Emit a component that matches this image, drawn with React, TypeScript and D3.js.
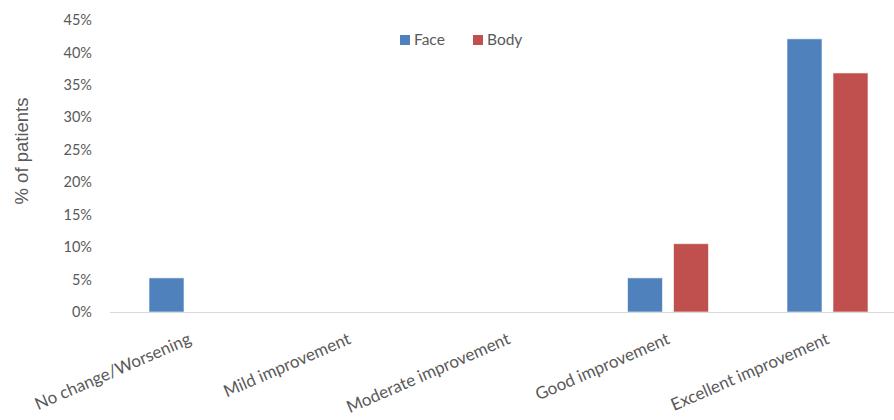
import React from "react";
import * as d3 from "d3";

const categories = [
  "No change/Worsening",
  "Mild improvement",
  "Moderate improvement",
  "Good improvement",
  "Excellent improvement",
];
const seriesNames = ["Face", "Body"];
const faceValues = [5.26, 0, 0, 5.26, 42.1];
const bodyValues = [0, 0, 0, 10.53, 36.84];
const yTicks = [0, 5, 10, 15, 20, 25, 30, 35, 40, 45];
const colors = ["#4F81BD", "#C0504D"];

const W = 894;
const H = 420;
const FONT = "Lato, 'Open Sans', sans-serif";
const TEXT = "#595959";

export default function App() {
  const x = d3.scaleBand<string>().domain(categories).range([109.75, 907.25]).paddingInner(0).paddingOuter(0);
  const x1 = d3.scaleBand<string>().domain(seriesNames).range([0, 81]).paddingInner(0.239);
  const y = d3.scaleLinear().domain([0, 45]).range([312, 20]);
  const series = [faceValues, bodyValues];
  const groupOffset = (x.bandwidth() - 81) / 2;

  return (
    <svg width={W} height={H} style={{ position: "absolute", left: 0, top: 0, background: "#fff" }} fontFamily={FONT}>
      <rect x={0} y={0} width={W} height={H} fill="#fff" />
      {yTicks.map((t) => (
        <text key={t} x={92} y={y(t)} dy="0.35em" textAnchor="end" fontSize={14.5} fill={TEXT}>
          {`${t}%`}
        </text>
      ))}
      <text
        transform={`translate(22, 151) rotate(-90)`}
        textAnchor="middle"
        dy="0.35em"
        fontSize={18.5}
        fontFamily="'Liberation Sans', Arial, sans-serif"
        fill={TEXT}
      >
        % of patients
      </text>
      {categories.map((c, i) => (
        <g key={c} transform={`translate(${(x(c) ?? 0) + groupOffset},0)`}>
          {seriesNames.map((s, j) => {
            const v = series[j][i];
            if (!v) return null;
            return (
              <rect
                key={s}
                x={x1(s)}
                y={y(v)}
                width={x1.bandwidth()}
                height={y(0) - y(v)}
                fill={colors[j]}
                stroke="#ffffff"
                strokeOpacity={0.6}
                strokeWidth={1}
              />
            );
          })}
        </g>
      ))}
      <line x1={110} x2={W} y1={y(0) + 0.5} y2={y(0) + 0.5} stroke="#d9d9d9" strokeWidth={1} />
      {categories.map((c) => {
        const cx = (x(c) ?? 0) + x.bandwidth() / 2;
        return (
          <text
            key={c}
            transform={`translate(${cx - 2}, 332) rotate(-23.5)`}
            textAnchor="end"
            dy="0.71em"
            fontSize={17}
            fill={TEXT}
          >
            {c}
          </text>
        );
      })}
      {seriesNames.map((s, j) => {
        const lx = j === 0 ? 400 : 473;
        return (
          <g key={s}>
            <rect x={lx} y={35} width={10} height={10} fill={colors[j]} />
            <text x={lx + 14} y={40} dy="0.35em" fontSize={15.5} fill={TEXT}>
              {s}
            </text>
          </g>
        );
      })}
    </svg>
  );
}
